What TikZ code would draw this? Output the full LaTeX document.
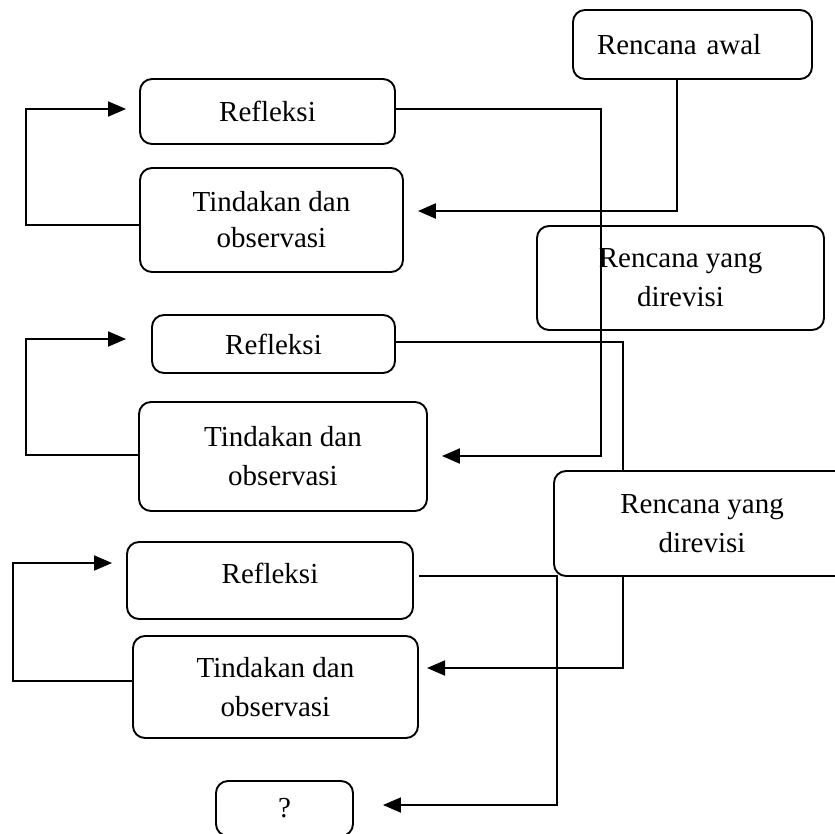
\documentclass[tikz,border=0pt]{standalone}
\usepackage{fontspec}
\setmainfont{Liberation Serif}
\usetikzlibrary{arrows.meta}
\begin{document}
\begin{tikzpicture}[x=1pt,y=-1pt,
  box/.style={draw,line width=1.9pt,rounded corners=12pt,fill=white,inner sep=0pt,align=center,
    font=\fontsize{29pt}{39pt}\selectfont},
  conn/.style={line width=1.8pt},
  thickconn/.style={line width=2.4pt},
  tip/.style={-{Triangle[length=18pt,width=15pt]}}]
\useasboundingbox (0,0) rectangle (835,833);
% connector partly hidden behind the second revised plan box
\draw[conn,tip] (273.5,344) ++(121.5,-2) coordinate (r2e) -- ++(228,0) |- (427,668) coordinate (t3in);
% nodes
\node[box,minimum width=239pt,minimum height=69pt,text width=191pt,align=left,inner xsep=24pt] (awal) at (692.5,44.5) {Rencana awal};
\node[box,minimum width=255pt,minimum height=65pt] (ref1) at (267.5,111.5) {Refleksi};
\node[box,minimum width=263pt,minimum height=104pt,font=\fontsize{29pt}{36pt}\selectfont] (tin1) at (271.5,220) {Tindakan dan\\observasi};
\node[box,minimum width=287pt,minimum height=104pt,fill=none] (rev1) at (680.5,278) {Rencana yang\\direvisi};
\node[box,minimum width=243pt,minimum height=58pt] (ref2) at (273.5,344) {Refleksi};
\node[box,minimum width=288pt,minimum height=109pt] (tin2) at (283,456.5) {Tindakan dan\\observasi};
\node[box,minimum width=296pt,minimum height=105pt] (rev2) at (702,523.5) {Rencana yang\\direvisi};
\node[box,minimum width=286pt,minimum height=77pt,text height=20pt,text depth=15pt] (ref3) at (270,580.5) {Refleksi};
\node[box,minimum width=285pt,minimum height=102pt] (tin3) at (275.5,687) {Tindakan dan\\observasi};
\node[box,minimum width=137pt,minimum height=55pt] (q) at (284.5,808.5) {?};
% connectors
\draw[thickconn,tip] ([xshift=-15.5pt]awal.south) |- ([xshift=14pt,yshift=9pt]tin1.east);
\draw[conn,tip] ([yshift=-5pt]tin1.west) -- ++(-113,0) |- ([xshift=-13pt,yshift=2.5pt]ref1.west);
\draw[line width=2.1pt,tip] ([yshift=2.5pt]ref1.east) -- ++(205,0) |- ([xshift=14pt,yshift=0.5pt]tin2.east);
\draw[conn,tip] ([yshift=1.5pt]tin2.west) -- ++(-112,0) |- ([xshift=-25pt,yshift=5pt]ref2.west);
\draw[conn,tip] ([yshift=6pt]tin3.west) -- ++(-119,0) |- ([xshift=-14pt,yshift=17.5pt]ref3.west);
\draw[conn,tip] ([xshift=5pt,yshift=4.5pt]ref3.east) -- ++(138,0) |- ([xshift=29pt,yshift=3.5pt]q.east);
\end{tikzpicture}
\end{document}
